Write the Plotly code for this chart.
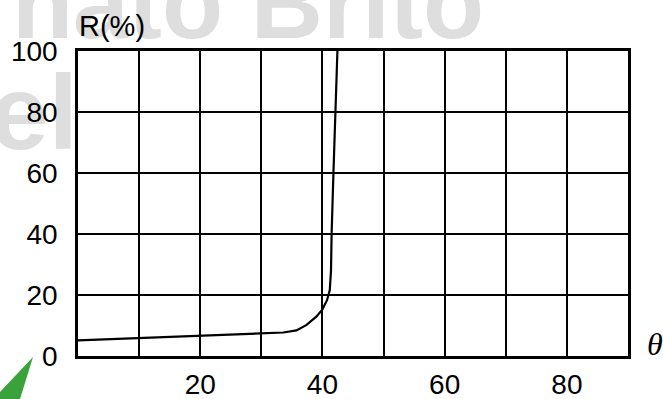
import plotly.graph_objects as go

# Data
theta = [0, 10, 20, 30, 33.6, 35.75, 37.4, 39.0, 40.0, 40.75, 41.2, 41.4, 41.5, 41.8, 42.1, 42.45]
R = [5.1, 5.9, 6.6, 7.4, 7.7, 8.4, 10.2, 12.9, 15.3, 18.3, 21.6, 28, 40, 60, 80, 100]

x_grid = [10, 20, 30, 40, 50, 60, 70, 80]
x_labels = ["", "20", "", "40", "", "60", "", "80"]
y_ticks = [0, 20, 40, 60, 80, 100]

W, H = 663, 399
L, RM, T, B = 78, 35, 51, 43
PW, PH = W - L - RM, H - T - B
X0, X1, Y0, Y1 = 0, 90, 0, 100


def px(xp):
    return (xp - L) / PW


def py(yp):
    return (H - B - yp) / PH


def dx(xp):
    return X0 + px(xp) * (X1 - X0)


def dy(yp):
    return Y0 + py(yp) * (Y1 - Y0)


font_sans = "Liberation Sans, Arial, sans-serif"

fig = go.Figure()

# Watermark text (drawn in the data layer so tick labels stay on top)
fig.add_trace(go.Scatter(x=[dx(248)], y=[dy(63)], mode="text", text=["<b>nato Brito</b>"],
                         textposition="top center", cliponaxis=False,
                         textfont=dict(family=font_sans, size=100, color="#dedede"),
                         showlegend=False, hoverinfo="skip"))
fig.add_trace(go.Scatter(x=[X0], y=[dy(122)], mode="text", text=["<b>sel</b>"],
                         textposition="middle left", cliponaxis=False,
                         textfont=dict(family=font_sans, size=106, color="#dedede"),
                         showlegend=False, hoverinfo="skip"))

fig.add_trace(go.Scatter(x=theta, y=R, mode="lines",
                         line=dict(color="black", width=2.2),
                         showlegend=False, hoverinfo="skip"))

fig.update_layout(
    width=W, height=H,
    margin=dict(l=L, r=RM, t=T, b=B, autoexpand=False),
    paper_bgcolor="white", plot_bgcolor="white",
    font=dict(family=font_sans, size=28, color="black"),
    xaxis=dict(range=[X0, X1], tickvals=x_grid, ticktext=x_labels,
               showgrid=True, gridcolor="black", gridwidth=2,
               showline=True, linecolor="black", linewidth=2.5, mirror=True,
               ticks="", zeroline=False, ticklabelstandoff=2, automargin=False,
               tickfont=dict(size=28)),
    yaxis=dict(range=[Y0, Y1], tickvals=y_ticks,
               showgrid=True, gridcolor="black", gridwidth=2,
               showline=True, linecolor="black", linewidth=2.5, mirror=True,
               ticks="", zeroline=False, ticklabelstandoff=12, automargin=False,
               tickfont=dict(size=28)),
)

# Green stroke decoration
fig.add_shape(type="path", xref="paper", yref="paper",
              path=f"M {px(0)},{py(392)} L {px(33)},{py(357)} L {px(20)},{py(399)} L {px(0)},{py(399)} Z",
              fillcolor="#3aa23a", line=dict(width=0), layer="above")

# Axis labels
fig.add_annotation(xref="paper", yref="paper", x=px(77), y=py(26),
                   xanchor="left", yanchor="middle", showarrow=False,
                   text="R(%)", font=dict(family=font_sans, size=29, color="black"))
fig.add_annotation(xref="paper", yref="paper", x=px(645), y=py(344),
                   xanchor="left", yanchor="middle", showarrow=False,
                   text="<i>θ</i>",
                   font=dict(family="Liberation Serif, Times New Roman, serif", size=32, color="black"))

fig.write_html("out.html", config={"displayModeBar": False},
               post_script="document.body.style.margin='0';document.body.style.overflow='hidden';")
